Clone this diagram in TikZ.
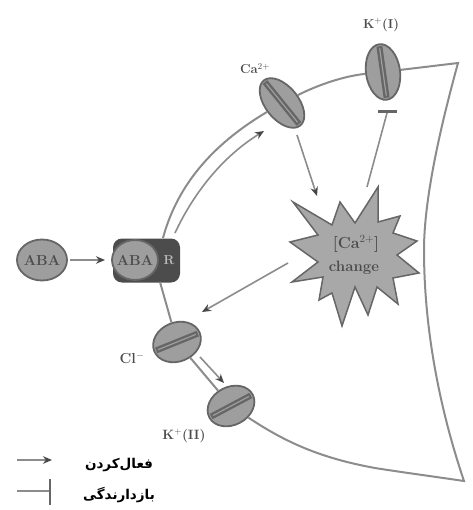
\documentclass[tikz,border=0pt]{standalone}
\usepackage{fontspec}
\usetikzlibrary{shapes.geometric,arrows.meta}
\TeXXeTstate=1
\newfontfamily\arabicfont[Script=Arabic]{DejaVu Sans Bold}
\definecolor{memb}{gray}{0.55}
\definecolor{edge}{gray}{0.4}
\definecolor{body}{gray}{0.62}
\definecolor{ink}{gray}{0.3}
\tikzset{
  membrane/.style={draw=memb,line width=2pt},
  channel/.style={ellipse,draw=edge,fill=body,line width=1.8pt,inner sep=0pt},
  band/.style={draw=edge,line width=6pt,shorten >=3pt,shorten <=3pt},
  bandcore/.style={draw=body,line width=1.2pt,shorten >=5pt,shorten <=5pt},
  act/.style={draw=memb,line width=1.6pt,-{Stealth[length=9pt,width=7.5pt,color=edge!70!black]}},
  inhib/.style={draw=memb,line width=1.6pt},
  hormone/.style={ellipse,draw=edge,fill=body,line width=1.8pt,inner sep=0pt,text=ink,font=\bfseries\fontsize{14.5}{15}\selectfont},
  lab/.style={text=ink,inner sep=0pt,font=\bfseries\fontsize{13}{14}\selectfont},
  legendtxt/.style={text=black,inner sep=0pt,font=\arabicfont\fontsize{13.5}{15}\selectfont},
  burst/.style={fill=body!90!white,draw=edge,line width=1.5pt,line join=miter}
}
\begin{document}
\begin{tikzpicture}[x=1pt,y=-1pt]
\useasboundingbox (0,0) rectangle (472,510);

% receptor complex
\node[rounded corners=9pt,fill=edge!75!black,minimum width=67pt,minimum height=44pt,inner sep=0pt] (rec) at (146.5,260.5) {};
\node[hormone,minimum width=46pt,minimum height=40pt,inner xsep=0pt] (abab) at (135,260) {};
\node[text=ink,inner sep=0pt,font=\bfseries\fontsize{14.5}{15}\selectfont] (ablab) at (135,260) {ABA};
\node[text=body!70!white,inner sep=0pt,font=\bfseries\fontsize{13}{14}\selectfont] (rlab) at (169,260) {R};
\node[hormone,minimum width=50pt,minimum height=41pt] (abaf) at (42,260) {};
\node[text=ink,inner sep=0pt,font=\bfseries\fontsize{14.5}{15}\selectfont] (aflab) at (42,260) {ABA};

% ion channels in the plasma membrane
\node[channel,minimum width=33pt,minimum height=58pt,rotate=39] (ca) at (282,103) {};
\node[channel,minimum width=34pt,minimum height=56pt,rotate=8] (ki) at (383,72) {};
\node[channel,minimum width=49pt,minimum height=39pt,rotate=22] (cl) at (177,342) {};
\node[channel,minimum width=49pt,minimum height=38pt,rotate=28] (kii) at (231,406) {};
\foreach \n/\a/\b in {ca/north/south,ki/north/south,cl/east/west,kii/east/west}{
  \draw[band] (\n.\a) -- (\n.\b);
  \draw[bandcore] (\n.\a) -- (\n.\b);
}

% cell outline
\coordinate (cornertop) at (458,63);
\coordinate (cornerbot) at (464,481);
\coordinate (rectop) at (163,238);
\coordinate (recbot) at (160,282);
\coordinate (recinner) at (175,233);
\coordinate (cainner) at (264,131);
\draw[membrane] (ki) -- (cornertop)
  .. controls (434,150) and (424,210) .. (424,250)
  .. controls (424,330) and (440,410) .. (cornerbot)
  .. controls (430,476) and (400,472) .. (375,468)
  .. controls (320,458) and (285,442) .. (kii);
\draw[membrane] (ki) .. controls (345,76) and (320,84) .. (ca);
\draw[membrane] (ca) .. controls (225,137) and (180,175) .. (rectop);
\draw[membrane] (recbot) -- (cl);
\draw[membrane] (cl) -- (kii);

% signalling arrows
\draw[act] (recinner) .. controls (195,190) and (225,155) .. (cainner);
\coordinate (abastart) at (70,260);
\coordinate (abaend) at (105,260);
\draw[act] (abastart) -- (abaend);
\coordinate (castart) at (297,135);
\coordinate (caend) at (317,196);
\draw[act] (castart) -- (caend);
\coordinate (burstw) at (288,263);
\coordinate (clhead) at (202,312);
\draw[act] (burstw) -- (clhead);
\coordinate (clstart) at (200,357);
\coordinate (kiihead) at (224,383);
\draw[act] (clstart) -- (kiihead);
\coordinate (bursttop) at (367,187);
\coordinate (barmid) at (387,113);
\draw[inhib] (bursttop) -- (barmid);
\coordinate (barl) at (378,112);
\coordinate (barr) at (397,112);
\draw[draw=edge,line width=3pt] (barl) -- (barr);

% calcium burst
\draw[burst] (293,202) -- (332,225) -- (340,202) -- (355,223) -- (378,187) -- (378,222)
  -- (400,216) -- (393,233) -- (417,241) -- (397,255) -- (419,273) -- (393,278)
  -- (398,304) -- (377,287) -- (368,315) -- (355,287) -- (342,326) -- (332,293)
  -- (319,300) -- (323,277) -- (292,282) -- (318,262) -- (290,242) -- (318,235) -- cycle;
\node[lab,font=\bfseries\fontsize{16}{16}\selectfont] (calevel) at (356,244) {[Ca$^{2+}$]};
\node[lab,font=\bfseries\fontsize{15}{15}\selectfont] (cachange) at (354,268) {change};

% ion labels
\node[lab] (lca) at (255,69) {Ca$^{2+}$};
\node[lab] (lki) at (381,25) {K$^{+}$(I)};
\node[lab,font=\bfseries\fontsize{14.5}{15}\selectfont] (lcl) at (132,358) {Cl$^{-}$};
\node[lab,font=\bfseries\fontsize{13.5}{14}\selectfont] (lkii) at (184,436) {K$^{+}$(II)};

% legend
\coordinate (leg1a) at (17,460);
\coordinate (leg1b) at (52,460);
\draw[act] (leg1a) -- (leg1b);
\coordinate (leg2a) at (17,491);
\coordinate (leg2b) at (50,491);
\coordinate (bar2a) at (50,479);
\coordinate (bar2b) at (50,505);
\draw[inhib] (leg2a) -- (leg2b);
\draw[draw=edge,line width=2.6pt] (bar2a) -- (bar2b);
\node[legendtxt] (legact) at (119,465) {\beginR فعال‌کردن\endR};
\node[legendtxt] (leginh) at (119,495) {\beginR بازدارندگی\endR};
\end{tikzpicture}
\end{document}
